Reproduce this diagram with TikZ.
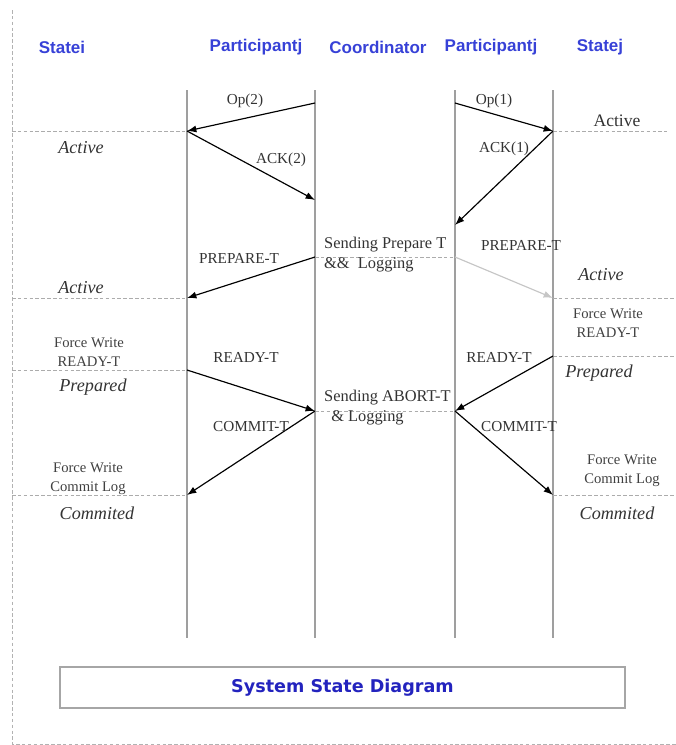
\documentclass[tikz,border=0pt]{standalone}
\usepackage{fontspec}
\setmainfont{Liberation Serif}
\setsansfont{Liberation Sans}
\newfontfamily\titlefont{DejaVu Sans}
\usetikzlibrary{arrows.meta,positioning}
\definecolor{hdrblue}{RGB}{55,65,215}
\definecolor{ttlblue}{RGB}{35,35,190}

\begin{document}
\begin{tikzpicture}[x=0.03cm, y=-0.03cm,
    lifeline/.style={gray!75, line width=1.3pt},
    stateline/.style={gray!65, line width=0.6pt, densely dashed},
    msg/.style={-{Latex[length=8pt,width=6pt]}, line width=1pt},
    lbl/.style={font=\fontsize{13}{17}\selectfont, text=black!80, inner sep=0pt},
    notelbl/.style={font=\fontsize{14}{17}\selectfont, text=black!80, align=left, inner sep=0pt, anchor=west},
    statelbl/.style={font=\fontsize{15.5}{16}\selectfont\itshape, text=black!80, inner sep=0pt},
    forcelbl/.style={font=\fontsize{12.5}{16}\selectfont, text=black!75, align=center, inner sep=0pt},
    header/.style={font=\sffamily\bfseries\fontsize{14.5}{16}\selectfont, text=hdrblue, inner sep=0pt}]

    \useasboundingbox (0,0) rectangle (676,745);

    % Page border
    \draw[gray!60, densely dashed] (12,10) -- (12,744) -- (676,744);

    % Headers
    \node[header] (hsi) at (62,47) {Statei};
    \node[header] (hpi) at (256,47) {Participantj};
    \node[header] (hco) at (378,47) {Coordinator};
    \node[header] (hpj) at (491,47) {Participantj};
    \node[header] (hsj) at (600,47) {Statej};

    % Lifelines
    \foreach \n/\x in {pi/187, co/315, pj/455, sj/553} {
        \coordinate (\n top) at (\x,90);
        \coordinate (\n bot) at (\x,638);
        \draw[lifeline] (\n top) -- (\n bot);
    }

    % Points on the lifelines
    \coordinate (pi1) at (187,131);
    \coordinate (pi2) at (187,298);
    \coordinate (pi3) at (187,370);
    \coordinate (pi4) at (187,495);
    \coordinate (co1) at (315,103);
    \coordinate (co2) at (315,200);
    \coordinate (co3) at (315,257);
    \coordinate (co4) at (315,411);
    \coordinate (pj1) at (455,103);
    \coordinate (pj2) at (455,225);
    \coordinate (pj3) at (455,257);
    \coordinate (pj4) at (455,411);
    \coordinate (sj1) at (553,131);
    \coordinate (sj2) at (553,298);
    \coordinate (sj3) at (553,356);
    \coordinate (sj4) at (553,495);

    % Free ends of the state lines
    \coordinate (li1) at (12,131);
    \coordinate (li2) at (12,298);
    \coordinate (li3) at (12,370);
    \coordinate (li4) at (12,495);
    \coordinate (re1) at (667,131);
    \coordinate (re2) at (676,298);
    \coordinate (re3) at (676,356);
    \coordinate (re4) at (676,495);

    % State lines
    \draw[stateline] (li1) -- (pi1);
    \draw[stateline] (li2) -- (pi2);
    \draw[stateline] (li3) -- (pi3);
    \draw[stateline] (li4) -- (pi4);
    \draw[stateline] (sj1) -- (re1);
    \draw[stateline] (sj2) -- (re2);
    \draw[stateline] (sj3) -- (re3);
    \draw[stateline] (sj4) -- (re4);
    \draw[stateline] (co3) -- (pj3);
    \draw[stateline] (co4) -- (pj4);

    % Messages
    \draw[msg] (co1) -- (pi1);
    \draw[msg] (pi1) -- (co2);
    \draw[msg] (pj1) -- (sj1);
    \draw[msg] (sj1) -- (pj2);
    \draw[msg] (co3) -- (pi2);
    \draw[msg, gray!45] (pj3) -- (sj2);
    \draw[msg] (pi3) -- (co4);
    \draw[msg] (sj3) -- (pj4);
    \draw[msg] (co4) -- (pi4);
    \draw[msg] (pj4) -- (sj4);

    % Message labels
    \node[lbl] (lop2) at (245,101) {Op(2)};
    \node[lbl] (lack2) at (281,160) {ACK(2)};
    \node[lbl] (lop1) at (494,101) {Op(1)};
    \node[lbl] (lack1) at (504,149) {ACK(1)};
    \node[lbl] (lprep1) at (239,258) {PREPARE-T};
    \node[lbl] (lprep2) at (521,245) {PREPARE-T};
    \node[lbl] (lready1) at (246,357) {READY-T};
    \node[lbl] (lready2) at (499,357) {READY-T};
    \node[lbl] (lcom1) at (251,427) {COMMIT-T};
    \node[lbl] (lcom2) at (519,427) {COMMIT-T};

    % Coordinator notes
    \node[notelbl] (nprep) at (324,255) {Sending Prepare T\\\&\&\ \ Logging};
    \node[notelbl] (nabort) at (324,408) {Sending ABORT-T\\\hspace*{6pt}\& Logging};

    % States of participant i
    \node[statelbl] (sa1) at (81,148) {Active};
    \node[statelbl] (sa2) at (81,288) {Active};
    \node[forcelbl] (sf1) at (89,352) {Force Write\\READY-T};
    \node[statelbl] (sp1) at (93,387) {Prepared};
    \node[forcelbl] (sf2) at (88,479) {Force Write\\Commit Log};
    \node[statelbl] (sc1) at (97,513) {Commited};

    % States of participant j
    \node[lbl, font=\fontsize{15}{16}\selectfont] (ta1) at (617,121) {Active};
    \node[statelbl] (ta2) at (601,275) {Active};
    \node[forcelbl] (tf1) at (608,323) {Force Write\\READY-T};
    \node[statelbl] (tp1) at (599,373) {Prepared};
    \node[forcelbl] (tf2) at (622,471) {Force Write\\Commit Log};
    \node[statelbl] (tc1) at (617,513) {Commited};

    % Title box
    \node[draw=gray!70, line width=1.2pt, minimum width=16.95cm, minimum height=1.23cm,
          font=\titlefont\bfseries\fontsize{15}{18}\selectfont, text=ttlblue] (title) at (342.5,687.5) {System State Diagram};

\end{tikzpicture}
\end{document}
